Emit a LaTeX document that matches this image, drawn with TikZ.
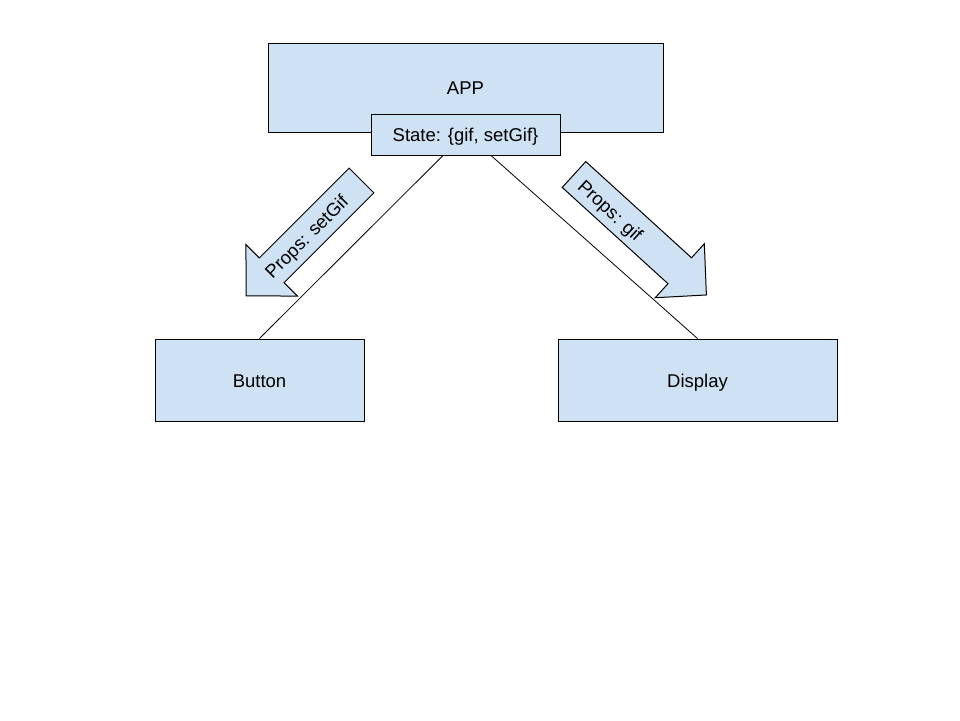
\documentclass[tikz,border=0pt]{standalone}
\usepackage{fontspec}
\setmainfont{Liberation Sans}
\definecolor{boxblue}{RGB}{207,226,243}

% block arrow: tail x, tail y, angle, length
\newcommand{\propsarrow}[4]{%
  \begin{scope}[shift={(#1,#2)}, rotate=#3]
    \draw[black, fill=boxblue, line width=1pt, line join=miter] (0,-17.5) -- (#4-36,-17.5) -- (#4-36,-36.5) -- (#4,0) -- (#4-36,36.5) -- (#4-36,17.5) -- (0,17.5) -- cycle;
  \end{scope}}

\begin{document}
\begin{tikzpicture}[x=1pt, y=-1pt,
    box/.style={draw=black, fill=boxblue, line width=1pt, inner sep=0pt, text height=14.5pt, text depth=0pt, font=\fontsize{18.5}{22}\selectfont},
    label/.style={inner sep=0pt, text height=14.5pt, text depth=0pt, font=\fontsize{18.5}{22}\selectfont}]
    \useasboundingbox (0,0) rectangle (960,720);

    \node[box, minimum width=395, minimum height=89] (app) at (465.5,87.5) {APP};
    \node[box, minimum width=189, minimum height=41] (state) at (465.5,134.5) {State: \{gif, setGif\}};
    \node[box, minimum width=209, minimum height=82] (button) at (259.5,380) {Button};
    \node[box, minimum width=279, minimum height=82] (display) at (697.5,380) {Display};

    \draw[line width=0.8pt] ([xshift=-22.5]state.south) -- (button.north);
    \draw[line width=0.8pt] ([xshift=25.5]state.south) -- (display.north);

    \propsarrow{361.5}{180.5}{-135}{163}
    \propsarrow{574}{174.5}{-42.3}{179}

    \node[label, rotate=45] (setgif) at (306,236) {Props: setGif};
    \node[label, rotate=-42.3] (gif) at (611,210) {Props: gif};
\end{tikzpicture}
\end{document}
